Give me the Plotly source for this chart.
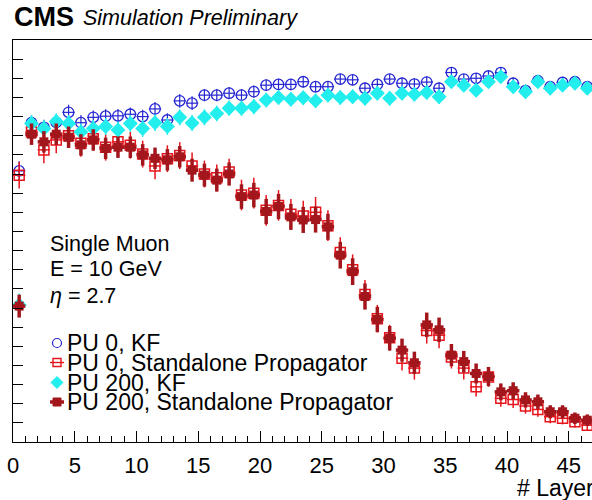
import plotly.graph_objects as go

# ---------------- data ----------------
layers = [i + 0.5 for i in range(47)]

pu0_kf = [0.708, 0.834, 0.822, 0.835, 0.861, 0.834, 0.848, 0.851, 0.852, 0.856,
          0.850, 0.870, 0.841, 0.891, 0.885, 0.906, 0.906, 0.911, 0.906, 0.915,
          0.932, 0.934, 0.934, 0.941, 0.928, 0.928, 0.948, 0.946, 0.924, 0.934,
          0.948, 0.937, 0.935, 0.940, 0.924, 0.965, 0.948, 0.950, 0.956, 0.965,
          0.937, 0.918, 0.944, 0.928, 0.939, 0.941, 0.928]
pu0_kf_err = [0.025, 0.02, 0.02, 0.02, 0.02, 0.02, 0.018, 0.018, 0.018, 0.018,
              0.018, 0.018, 0.018, 0.018, 0.018, 0.016, 0.016, 0.016, 0.016, 0.016,
              0.015, 0.015, 0.015, 0.015, 0.015, 0.015, 0.014, 0.014, 0.015, 0.015,
              0.014, 0.015, 0.015, 0.015, 0.015, 0.012, 0.014, 0.014, 0.013, 0.012,
              0.015, 0.016, 0.014, 0.015, 0.015, 0.015, 0.015]

pu0_sp = [0.697, 0.810, 0.763, 0.789, 0.800, 0.780, 0.792, 0.770, 0.784, 0.775,
          0.752, 0.721, 0.740, 0.748, 0.721, 0.700, 0.690, 0.705, 0.645, 0.650,
          0.605, 0.618, 0.595, 0.590, 0.600, 0.565, 0.495, 0.450, 0.385, 0.322,
          0.272, 0.219, 0.193, 0.291, 0.279, 0.222, 0.193, 0.144, 0.170, 0.114,
          0.111, 0.094, 0.085, 0.066, 0.062, 0.053, 0.044]
pu0_sp_err = [0.035, 0.03, 0.035, 0.035, 0.03, 0.035, 0.03, 0.035, 0.035, 0.035,
              0.035, 0.035, 0.035, 0.035, 0.035, 0.035, 0.035, 0.035, 0.04, 0.04,
              0.04, 0.04, 0.04, 0.04, 0.04, 0.04, 0.04, 0.04, 0.038, 0.036,
              0.034, 0.032, 0.03, 0.034, 0.034, 0.03, 0.03, 0.025, 0.026, 0.022,
              0.022, 0.02, 0.019, 0.017, 0.016, 0.015, 0.014]

pu200_kf = [0.358, 0.832, 0.819, 0.837, 0.832, 0.810, 0.819, 0.824, 0.815, 0.832,
            0.819, 0.834, 0.824, 0.848, 0.833, 0.848, 0.858, 0.872, 0.872, 0.876,
            0.893, 0.900, 0.895, 0.899, 0.891, 0.906, 0.900, 0.902, 0.898, 0.911,
            0.898, 0.911, 0.908, 0.913, 0.902, 0.941, 0.932, 0.919, 0.941, 0.954,
            0.928, 0.915, 0.941, 0.924, 0.932, 0.937, 0.924]
pu200_kf_err = [0.03, 0.022, 0.022, 0.022, 0.022, 0.022, 0.022, 0.022, 0.022, 0.022,
                0.022, 0.022, 0.022, 0.021, 0.021, 0.021, 0.02, 0.02, 0.02, 0.02,
                0.019, 0.019, 0.019, 0.019, 0.019, 0.019, 0.019, 0.019, 0.019, 0.018,
                0.019, 0.018, 0.018, 0.018, 0.019, 0.016, 0.017, 0.018, 0.016, 0.015,
                0.017, 0.018, 0.016, 0.017, 0.017, 0.016, 0.017]

pu200_sp = [0.355, 0.804, 0.784, 0.804, 0.796, 0.776, 0.789, 0.767, 0.770, 0.770,
            0.750, 0.741, 0.737, 0.745, 0.710, 0.697, 0.684, 0.700, 0.641, 0.645,
            0.602, 0.615, 0.588, 0.580, 0.581, 0.562, 0.488, 0.445, 0.380, 0.320,
            0.271, 0.240, 0.207, 0.306, 0.293, 0.227, 0.210, 0.179, 0.171, 0.131,
            0.134, 0.110, 0.105, 0.079, 0.079, 0.062, 0.057]
pu200_sp_err = [0.03, 0.028, 0.028, 0.028, 0.028, 0.028, 0.028, 0.028, 0.028, 0.028,
                0.028, 0.028, 0.028, 0.028, 0.03, 0.03, 0.03, 0.03, 0.032, 0.032,
                0.033, 0.033, 0.034, 0.034, 0.034, 0.034, 0.035, 0.035, 0.034, 0.033,
                0.032, 0.03, 0.029, 0.032, 0.032, 0.029, 0.028, 0.026, 0.025, 0.022,
                0.022, 0.02, 0.019, 0.017, 0.017, 0.015, 0.015]

series_names = ["PU 0, KF", "PU 0, Standalone Propagator",
                "PU 200, KF", "PU 200, Standalone Propagator"]
info_lines = ["Single Muon", "E = 10 GeV", "<i>η</i> = 2.7"]
x_tick_vals = [0, 5, 10, 15, 20, 25, 30, 35, 40, 45]

# ---------------- styles ----------------
BLUE = "#2626d2"
RED = "#e8141c"
CYAN = "#22eeee"
DRED = "#a3161c"
FONT = "Liberation Sans, Arial, sans-serif"

W, H = 592, 500
ML, MR, MT, MB = 13, 0, 40, 58
PW, PH = W - ML - MR, H - MT - MB


def px(xp):
    return (xp - ML) / PW


def py(yp):
    return (H - MB - yp) / PH


fig = go.Figure()


def add(y, err, name, color, symbol, size, lw, eth, fill=None):
    fig.add_trace(go.Scatter(
        x=layers, y=y, mode="markers", name=name, showlegend=False,
        marker=dict(symbol=symbol, size=size, color=fill or color,
                    line=dict(color=color, width=lw)),
        error_y=dict(type="data", array=err, visible=True, color=color,
                     thickness=eth, width=0),
        error_x=dict(type="constant", value=0.5, visible=True, color=color,
                     thickness=eth, width=0),
    ))


add(pu0_kf, pu0_kf_err, series_names[0], BLUE, "circle-open", 10.5, 1.3, 1.2)
add(pu0_sp, pu0_sp_err, series_names[1], RED, "square-open", 10, 1.5, 1.5)
add(pu200_kf, pu200_kf_err, series_names[2], CYAN, "diamond", 11.5, 0, 1.5)
add(pu200_sp, pu200_sp_err, series_names[3], DRED, "square", 9, 0, 3.5)

annotations = []
shapes = []

# header
annotations.append(dict(text="<b>CMS</b>", xref="paper", yref="paper",
                        x=px(12), y=py(27), xanchor="left", yanchor="bottom",
                        showarrow=False, font=dict(family=FONT, size=27, color="black"),
                        yshift=-7))
annotations.append(dict(text="<i>Simulation Preliminary</i>", xref="paper", yref="paper",
                        x=px(81), y=py(27), xanchor="left", yanchor="bottom",
                        showarrow=False, font=dict(family=FONT, size=21.5, color="black"),
                        yshift=-5))

# info text
for txt, yc in zip(info_lines, [244, 269, 296]):
    annotations.append(dict(text=txt, xref="paper", yref="paper",
                            x=px(48), y=py(yc), xanchor="left", yanchor="middle",
                            showarrow=False,
                            font=dict(family=FONT, size=21.5, color="black")))

# legend (custom, compact like ROOT TLegend)
leg_y = [343, 362.5, 382.5, 402]
for name, yc in zip(series_names, leg_y):
    annotations.append(dict(text=name, xref="paper", yref="paper",
                            x=px(65), y=py(yc), xanchor="left", yanchor="middle",
                            showarrow=False,
                            font=dict(family=FONT, size=23, color="black")))

xa = px(57)
# PU0 KF : open circle
shapes.append(dict(type="circle", xref="paper", yref="paper", xsizemode="pixel",
                   ysizemode="pixel", xanchor=xa, yanchor=py(leg_y[0]),
                   x0=-4.5, x1=4.5, y0=-4.5, y1=4.5, line=dict(color=BLUE, width=1.2)))
# PU0 SP : open square with horizontal line
shapes.append(dict(type="rect", xref="paper", yref="paper", xsizemode="pixel",
                   ysizemode="pixel", xanchor=xa, yanchor=py(leg_y[1]),
                   x0=-4, x1=4, y0=-4, y1=4, line=dict(color=RED, width=1.4)))
shapes.append(dict(type="line", xref="paper", yref="paper", xsizemode="pixel",
                   ysizemode="pixel", xanchor=xa, yanchor=py(leg_y[1]),
                   x0=-7, x1=7, y0=0, y1=0, line=dict(color=RED, width=1.4)))
# PU200 KF : filled diamond
shapes.append(dict(type="path", xref="paper", yref="paper", xsizemode="pixel",
                   ysizemode="pixel", xanchor=xa, yanchor=py(leg_y[2]),
                   path="M -6 0 L 0 6 L 6 0 L 0 -6 Z", fillcolor=CYAN,
                   line=dict(color=CYAN, width=1)))
# PU200 SP : filled square with thick bar
shapes.append(dict(type="rect", xref="paper", yref="paper", xsizemode="pixel",
                   ysizemode="pixel", xanchor=xa, yanchor=py(leg_y[3]),
                   x0=-4, x1=4, y0=-4, y1=4, fillcolor=DRED, line=dict(color=DRED, width=1)))
shapes.append(dict(type="line", xref="paper", yref="paper", xsizemode="pixel",
                   ysizemode="pixel", xanchor=xa, yanchor=py(leg_y[3]),
                   x0=-7, x1=7, y0=0, y1=0, line=dict(color=DRED, width=3.5)))

# x-axis title (cropped at the right edge in the reference)
annotations.append(dict(text="# Layers", xref="paper", yref="paper",
                        x=px(515), y=py(488), xanchor="left", yanchor="middle",
                        showarrow=False, font=dict(family=FONT, size=23, color="black")))

fig.update_layout(
    width=W, height=H,
    margin=dict(l=ML, r=MR, t=MT, b=MB, pad=0),
    paper_bgcolor="white", plot_bgcolor="white",
    showlegend=False,
    annotations=annotations, shapes=shapes,
    font=dict(family=FONT, color="black"),
)
fig.update_xaxes(
    range=[0, (W - ML) / 12.35], showgrid=False, zeroline=False,
    showline=True, linecolor="black", linewidth=1.3, mirror=True,
    ticks="inside", ticklen=11, tickwidth=1, tickcolor="black",
    tickvals=x_tick_vals, ticktext=[str(v) for v in x_tick_vals],
    tickfont=dict(family=FONT, size=22, color="black"),
    ticklabelstandoff=3,
    minor=dict(ticks="inside", ticklen=6, dtick=1, tickcolor="black", tickwidth=1,
               showgrid=False),
)
fig.update_yaxes(
    range=[0, 1.05], showgrid=False, zeroline=False,
    showline=True, linecolor="black", linewidth=1.3, mirror=False,
    ticks="inside", ticklen=10, tickwidth=1, tickcolor="black",
    dtick=0.05, tick0=0, showticklabels=False,
)

fig.write_html("out.html")
